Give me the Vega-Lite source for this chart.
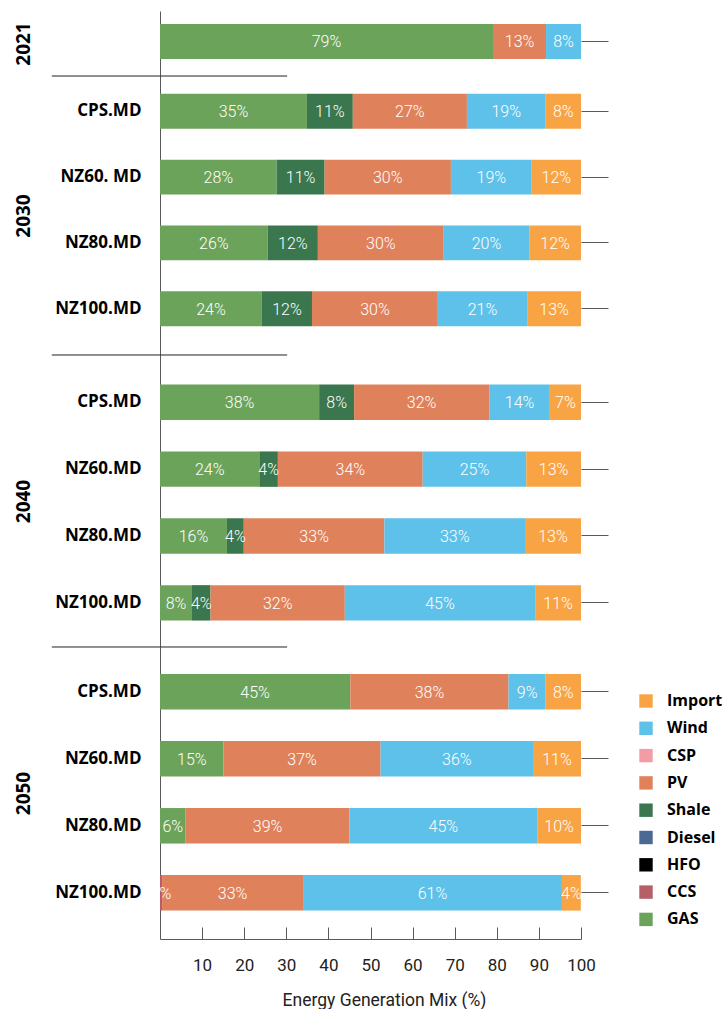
{
  "$schema": "https://vega.github.io/schema/vega-lite/v6.json",
  "padding": {"left": 14, "top": 11, "right": 0, "bottom": 0},
  "spacing": 0,
  "bounds": "flush",
  "data": {
    "values": [
      {"year": "2021", "scenario": "2021", "source": "GAS", "value": 79.1},
      {"year": "2021", "scenario": "2021", "source": "PV", "value": 12.6},
      {"year": "2021", "scenario": "2021", "source": "Wind", "value": 8.3},

      {"year": "2030", "scenario": "CPS.MD", "source": "GAS", "value": 34.9},
      {"year": "2030", "scenario": "CPS.MD", "source": "Shale", "value": 10.9},
      {"year": "2030", "scenario": "CPS.MD", "source": "PV", "value": 27.1},
      {"year": "2030", "scenario": "CPS.MD", "source": "Wind", "value": 18.7},
      {"year": "2030", "scenario": "CPS.MD", "source": "Import", "value": 8.4},
      {"year": "2030", "scenario": "NZ60. MD", "source": "GAS", "value": 27.7},
      {"year": "2030", "scenario": "NZ60. MD", "source": "Shale", "value": 11.4},
      {"year": "2030", "scenario": "NZ60. MD", "source": "PV", "value": 30.0},
      {"year": "2030", "scenario": "NZ60. MD", "source": "Wind", "value": 19.2},
      {"year": "2030", "scenario": "NZ60. MD", "source": "Import", "value": 11.7},
      {"year": "2030", "scenario": "NZ80.MD", "source": "GAS", "value": 25.6},
      {"year": "2030", "scenario": "NZ80.MD", "source": "Shale", "value": 11.9},
      {"year": "2030", "scenario": "NZ80.MD", "source": "PV", "value": 29.9},
      {"year": "2030", "scenario": "NZ80.MD", "source": "Wind", "value": 20.3},
      {"year": "2030", "scenario": "NZ80.MD", "source": "Import", "value": 12.3},
      {"year": "2030", "scenario": "NZ100.MD", "source": "GAS", "value": 24.2},
      {"year": "2030", "scenario": "NZ100.MD", "source": "Shale", "value": 11.9},
      {"year": "2030", "scenario": "NZ100.MD", "source": "PV", "value": 29.9},
      {"year": "2030", "scenario": "NZ100.MD", "source": "Wind", "value": 21.2},
      {"year": "2030", "scenario": "NZ100.MD", "source": "Import", "value": 12.8},

      {"year": "2040", "scenario": "CPS.MD", "source": "GAS", "value": 37.8},
      {"year": "2040", "scenario": "CPS.MD", "source": "Shale", "value": 8.3},
      {"year": "2040", "scenario": "CPS.MD", "source": "PV", "value": 32.1},
      {"year": "2040", "scenario": "CPS.MD", "source": "Wind", "value": 14.4},
      {"year": "2040", "scenario": "CPS.MD", "source": "Import", "value": 7.4},
      {"year": "2040", "scenario": "NZ60.MD", "source": "GAS", "value": 23.6},
      {"year": "2040", "scenario": "NZ60.MD", "source": "Shale", "value": 4.4},
      {"year": "2040", "scenario": "NZ60.MD", "source": "PV", "value": 34.4},
      {"year": "2040", "scenario": "NZ60.MD", "source": "Wind", "value": 24.6},
      {"year": "2040", "scenario": "NZ60.MD", "source": "Import", "value": 13.0},
      {"year": "2040", "scenario": "NZ80.MD", "source": "GAS", "value": 15.9},
      {"year": "2040", "scenario": "NZ80.MD", "source": "Shale", "value": 4.0},
      {"year": "2040", "scenario": "NZ80.MD", "source": "PV", "value": 33.4},
      {"year": "2040", "scenario": "NZ80.MD", "source": "Wind", "value": 33.4},
      {"year": "2040", "scenario": "NZ80.MD", "source": "Import", "value": 13.3},
      {"year": "2040", "scenario": "NZ100.MD", "source": "GAS", "value": 7.6},
      {"year": "2040", "scenario": "NZ100.MD", "source": "Shale", "value": 4.4},
      {"year": "2040", "scenario": "NZ100.MD", "source": "PV", "value": 31.9},
      {"year": "2040", "scenario": "NZ100.MD", "source": "Wind", "value": 45.2},
      {"year": "2040", "scenario": "NZ100.MD", "source": "Import", "value": 10.9},

      {"year": "2050", "scenario": "CPS.MD", "source": "GAS", "value": 45.2},
      {"year": "2050", "scenario": "CPS.MD", "source": "PV", "value": 37.6},
      {"year": "2050", "scenario": "CPS.MD", "source": "Wind", "value": 8.8},
      {"year": "2050", "scenario": "CPS.MD", "source": "Import", "value": 8.4},
      {"year": "2050", "scenario": "NZ60.MD", "source": "GAS", "value": 15.1},
      {"year": "2050", "scenario": "NZ60.MD", "source": "PV", "value": 37.3},
      {"year": "2050", "scenario": "NZ60.MD", "source": "Wind", "value": 36.2},
      {"year": "2050", "scenario": "NZ60.MD", "source": "Import", "value": 11.4},
      {"year": "2050", "scenario": "NZ80.MD", "source": "GAS", "value": 6.1},
      {"year": "2050", "scenario": "NZ80.MD", "source": "PV", "value": 38.9},
      {"year": "2050", "scenario": "NZ80.MD", "source": "Wind", "value": 44.6},
      {"year": "2050", "scenario": "NZ80.MD", "source": "Import", "value": 10.4},
      {"year": "2050", "scenario": "NZ100.MD", "source": "CCS", "value": 0.49},
      {"year": "2050", "scenario": "NZ100.MD", "source": "PV", "value": 33.49},
      {"year": "2050", "scenario": "NZ100.MD", "source": "Wind", "value": 61.49},
      {"year": "2050", "scenario": "NZ100.MD", "source": "Import", "value": 4.49}
    ]
  },
  "transform": [
    {"calculate": "indexof(['GAS','CCS','HFO','Diesel','Shale','PV','CSP','Wind','Import'], datum.source)", "as": "rank"},
    {"stack": "value", "groupby": ["year", "scenario"], "sort": [{"field": "rank", "order": "ascending"}], "as": ["x0", "x1"]},
    {"calculate": "(datum.x0 + datum.x1) / 2", "as": "mid"},
    {"calculate": "format(datum.value, '.0f') + '%'", "as": "label"}
  ],
  "resolve": {"scale": {"color": "shared"}, "legend": {"color": "shared"}},
  "vconcat": [
    {
      "width": 421,
      "height": 65,
      "transform": [{"filter": "datum.year == '2021'"}],
      "layer": [
        {
          "mark": {"type": "bar"},
          "encoding": {
            "y": {"field": "scenario", "type": "nominal", "sort": ["2021"],
                  "scale": {"paddingInner": 0.47, "paddingOuter": 0.227, "align": 0.433},
                  "axis": {"labels": false, "title": "2021", "minExtent": 120, "maxExtent": 120, "titlePadding": 7}},
            "x": {"field": "x0", "type": "quantitative", "scale": {"domain": [0, 100], "nice": false}, "axis": null},
            "x2": {"field": "x1"},
            "color": {"field": "source", "type": "nominal", "title": null,
                      "scale": {"domain": ["Import", "Wind", "CSP", "PV", "Shale", "Diesel", "HFO", "CCS", "GAS"],
                                "range": ["#F9A444", "#5EC1E9", "#F49CA6", "#DF825C", "#3A774E", "#4A6A93", "#000000", "#B65F67", "#6CA35B"]}}
          }
        },
        {
          "mark": {"type": "text", "color": "white", "font": "Roboto", "fontWeight": 300, "fontSize": 16, "baseline": "middle", "dy": 1},
          "encoding": {
            "y": {"field": "scenario", "type": "nominal", "sort": ["2021"],
                  "axis": {"orient": "right", "labels": false, "domain": false, "ticks": true, "tickSize": 27, "title": null}},
            "x": {"field": "mid", "type": "quantitative", "axis": null},
            "text": {"field": "label"}
          }
        }
      ],
      "resolve": {"axis": {"y": "independent"}}
    },
    {
      "width": 421,
      "height": 279,
      "transform": [{"filter": "datum.year == '2030'"}],
      "layer": [
        {
          "mark": {"type": "bar"},
          "encoding": {
            "y": {"field": "scenario", "type": "nominal", "sort": ["CPS.MD", "NZ60. MD", "NZ80.MD", "NZ100.MD"],
                  "scale": {"paddingInner": 0.47, "paddingOuter": 0.355, "align": 0.382},
                  "axis": {"title": "2030", "minExtent": 120, "maxExtent": 120, "titlePadding": 7}},
            "x": {"field": "x0", "type": "quantitative", "scale": {"domain": [0, 100], "nice": false}, "axis": null},
            "x2": {"field": "x1"},
            "color": {"field": "source", "type": "nominal", "title": null,
                      "scale": {"domain": ["Import", "Wind", "CSP", "PV", "Shale", "Diesel", "HFO", "CCS", "GAS"],
                                "range": ["#F9A444", "#5EC1E9", "#F49CA6", "#DF825C", "#3A774E", "#4A6A93", "#000000", "#B65F67", "#6CA35B"]}}
          }
        },
        {
          "mark": {"type": "text", "color": "white", "font": "Roboto", "fontWeight": 300, "fontSize": 16, "baseline": "middle", "dy": 1},
          "encoding": {
            "y": {"field": "scenario", "type": "nominal", "sort": ["CPS.MD", "NZ60. MD", "NZ80.MD", "NZ100.MD"],
                  "axis": {"orient": "right", "labels": false, "domain": false, "ticks": true, "tickSize": 27, "title": null}},
            "x": {"field": "mid", "type": "quantitative", "axis": null},
            "text": {"field": "label"}
          }
        },
        {
          "data": {"values": [{"scenario": "CPS.MD"}]},
          "mark": {"type": "rule", "color": "#222", "strokeWidth": 1},
          "encoding": {
            "y": {"field": "scenario", "type": "nominal", "sort": ["CPS.MD", "NZ60. MD", "NZ80.MD", "NZ100.MD"], "bandPosition": -0.511, "axis": null},
            "x": {"datum": -25.7, "type": "quantitative", "axis": null},
            "x2": {"datum": 30.2}
          }
        }
      ],
      "resolve": {"axis": {"y": "independent"}}
    },
    {
      "width": 421,
      "height": 292,
      "transform": [{"filter": "datum.year == '2040'"}],
      "layer": [
        {
          "mark": {"type": "bar"},
          "encoding": {
            "y": {"field": "scenario", "type": "nominal", "sort": ["CPS.MD", "NZ60.MD", "NZ80.MD", "NZ100.MD"],
                  "scale": {"paddingInner": 0.47, "paddingOuter": 0.419, "align": 0.528},
                  "axis": {"title": "2040", "minExtent": 120, "maxExtent": 120, "titlePadding": 7}},
            "x": {"field": "x0", "type": "quantitative", "scale": {"domain": [0, 100], "nice": false}, "axis": null},
            "x2": {"field": "x1"},
            "color": {"field": "source", "type": "nominal", "title": null,
                      "scale": {"domain": ["Import", "Wind", "CSP", "PV", "Shale", "Diesel", "HFO", "CCS", "GAS"],
                                "range": ["#F9A444", "#5EC1E9", "#F49CA6", "#DF825C", "#3A774E", "#4A6A93", "#000000", "#B65F67", "#6CA35B"]}}
          }
        },
        {
          "mark": {"type": "text", "color": "white", "font": "Roboto", "fontWeight": 300, "fontSize": 16, "baseline": "middle", "dy": 1},
          "encoding": {
            "y": {"field": "scenario", "type": "nominal", "sort": ["CPS.MD", "NZ60.MD", "NZ80.MD", "NZ100.MD"],
                  "axis": {"orient": "right", "labels": false, "domain": false, "ticks": true, "tickSize": 27, "title": null}},
            "x": {"field": "mid", "type": "quantitative", "axis": null},
            "text": {"field": "label"}
          }
        },
        {
          "data": {"values": [{"scenario": "CPS.MD"}]},
          "mark": {"type": "rule", "color": "#222", "strokeWidth": 1},
          "encoding": {
            "y": {"field": "scenario", "type": "nominal", "sort": ["CPS.MD", "NZ60.MD", "NZ80.MD", "NZ100.MD"], "bandPosition": -0.835, "axis": null},
            "x": {"datum": -25.7, "type": "quantitative", "axis": null},
            "x2": {"datum": 30.2}
          }
        }
      ],
      "resolve": {"axis": {"y": "independent"}}
    },
    {
      "width": 421,
      "height": 292,
      "transform": [{"filter": "datum.year == '2050'"}],
      "layer": [
        {
          "mark": {"type": "bar"},
          "encoding": {
            "y": {"field": "scenario", "type": "nominal", "sort": ["CPS.MD", "NZ60.MD", "NZ80.MD", "NZ100.MD"],
                  "scale": {"paddingInner": 0.47, "paddingOuter": 0.413, "align": 0.487},
                  "axis": {"title": "2050", "minExtent": 120, "maxExtent": 120, "titlePadding": 7}},
            "x": {"field": "x0", "type": "quantitative", "scale": {"domain": [0, 100], "nice": false},
                  "axis": {"values": [10, 20, 30, 40, 50, 60, 70, 80, 90, 100], "tickSize": -12, "labelPadding": 30,
                           "labelFlush": false,
                           "title": "Energy Generation Mix (%)", "titleX": 224, "titlePadding": 18,
                           "labelFont": "Roboto", "labelFontSize": 17, "titleFont": "Roboto", "titleFontSize": 17.5,
                           "titleFontWeight": "normal", "labelColor": "#222", "titleColor": "#222"}},
            "x2": {"field": "x1"},
            "color": {"field": "source", "type": "nominal", "title": null,
                      "scale": {"domain": ["Import", "Wind", "CSP", "PV", "Shale", "Diesel", "HFO", "CCS", "GAS"],
                                "range": ["#F9A444", "#5EC1E9", "#F49CA6", "#DF825C", "#3A774E", "#4A6A93", "#000000", "#B65F67", "#6CA35B"]}}
          }
        },
        {
          "mark": {"type": "text", "color": "white", "font": "Roboto", "fontWeight": 300, "fontSize": 16, "baseline": "middle", "dy": 1},
          "encoding": {
            "y": {"field": "scenario", "type": "nominal", "sort": ["CPS.MD", "NZ60.MD", "NZ80.MD", "NZ100.MD"],
                  "axis": {"orient": "right", "labels": false, "domain": false, "ticks": true, "tickSize": 27, "title": null}},
            "x": {"field": "mid", "type": "quantitative"},
            "text": {"field": "label"}
          }
        },
        {
          "data": {"values": [{"scenario": "CPS.MD"}]},
          "mark": {"type": "rule", "color": "#222", "strokeWidth": 1},
          "encoding": {
            "y": {"field": "scenario", "type": "nominal", "sort": ["CPS.MD", "NZ60.MD", "NZ80.MD", "NZ100.MD"], "bandPosition": -0.759, "axis": null},
            "x": {"datum": -25.7, "type": "quantitative"},
            "x2": {"datum": 30.2}
          }
        }
      ],
      "resolve": {"axis": {"y": "independent"}}
    }
  ],
  "config": {
    "view": {"stroke": null},
    "axis": {
      "grid": false,
      "domainColor": "#595959",
      "tickColor": "#595959",
      "labelFont": "Open Sans",
      "titleFont": "Open Sans"
    },
    "axisY": {
      "ticks": false,
      "tickSize": 0,
      "labelPadding": 19,
      "labelFontSize": 17,
      "labelFontWeight": "bold",
      "labelColor": "#000",
      "titleFontSize": 19,
      "titleFontWeight": "bold",
      "titleColor": "#000"
    },
    "legend": {
      "orient": "none",
      "legendX": 478,
      "legendY": 682,
      "padding": 0,
      "symbolType": "square",
      "symbolSize": 180,
      "symbolStrokeWidth": 0,
      "symbolOpacity": 1,
      "labelFont": "Open Sans",
      "labelFontSize": 16,
      "labelFontWeight": "bold",
      "labelColor": "#000",
      "labelOffset": 13,
      "rowPadding": 11.3
    }
  }
}
